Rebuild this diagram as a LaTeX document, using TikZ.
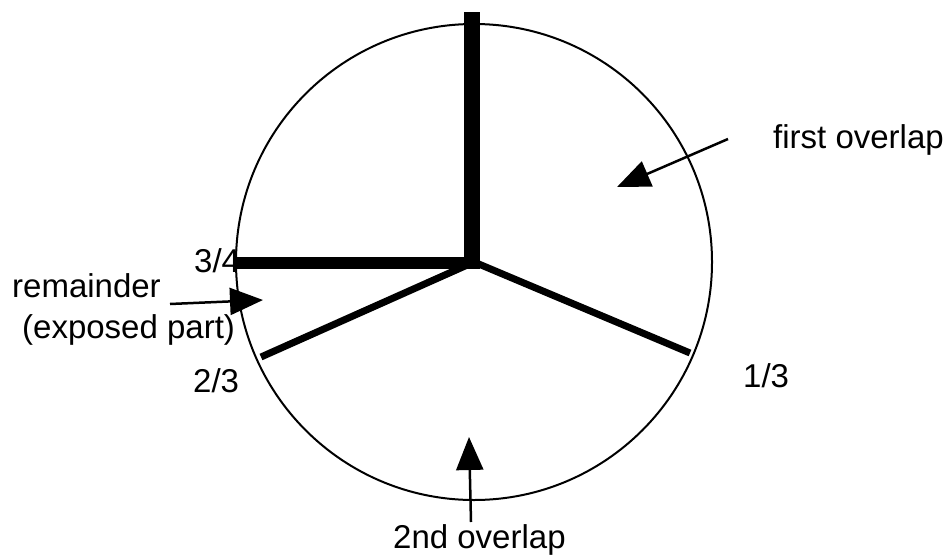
\documentclass[tikz,border=0pt]{standalone}
\usepackage{fontspec}
\setmainfont{Liberation Sans}
\usetikzlibrary{arrows.meta}
\begin{document}
\begin{tikzpicture}[x=1pt,y=-1pt,
  lbl/.style={anchor=base west,inner sep=0pt,font=\fontsize{33}{38}\selectfont},
  ring/.style={line width=2pt},
  bar/.style={line width=#1},
  pointer/.style={line width=2.5pt,-{Triangle[length=33pt,width=27pt]}}]
\useasboundingbox (0,0) rectangle (947,554);
% circle
\coordinate (c) at (474,262);
\draw[ring] (c) circle[radius=238];
% labels
\node[lbl] (l34) at (194,272) {3/4};
\node[lbl] (l23) at (193,392) {2/3};
\node[lbl] (l13) at (743,387) {1/3};
\node[lbl] (lfirst) at (773,148) {first overlap};
\node[lbl] (lrem) at (12,297) {remainder};
\node[lbl] (lexp) at (22,338) {(exposed part)};
\node[lbl] (lsecond) at (393,548) {2nd overlap};
% bars
\coordinate (top) at (472,12);
\coordinate (vb) at (472,269);
\coordinate (hl) at (233,263);
\coordinate (hr) at (480,263);
\coordinate (e13) at (690,353);
\coordinate (e23) at (261,357);
\draw[bar=7pt] (c) -- (e13);
\draw[bar=7pt] (c) -- (e23);
\draw[bar=12pt] (hl) -- (hr);
\draw[bar=16pt] (top) -- (vb);
% pointers
\coordinate (a1s) at (728,139);
\coordinate (a1t) at (617,187);
\coordinate (a2s) at (170,304);
\coordinate (a2t) at (263,300);
\coordinate (a3s) at (471,522);
\coordinate (a3t) at (469,437);
\draw[pointer] (a1s) -- (a1t);
\draw[pointer] (a2s) -- (a2t);
\draw[pointer] (a3s) -- (a3t);
\end{tikzpicture}
\end{document}
